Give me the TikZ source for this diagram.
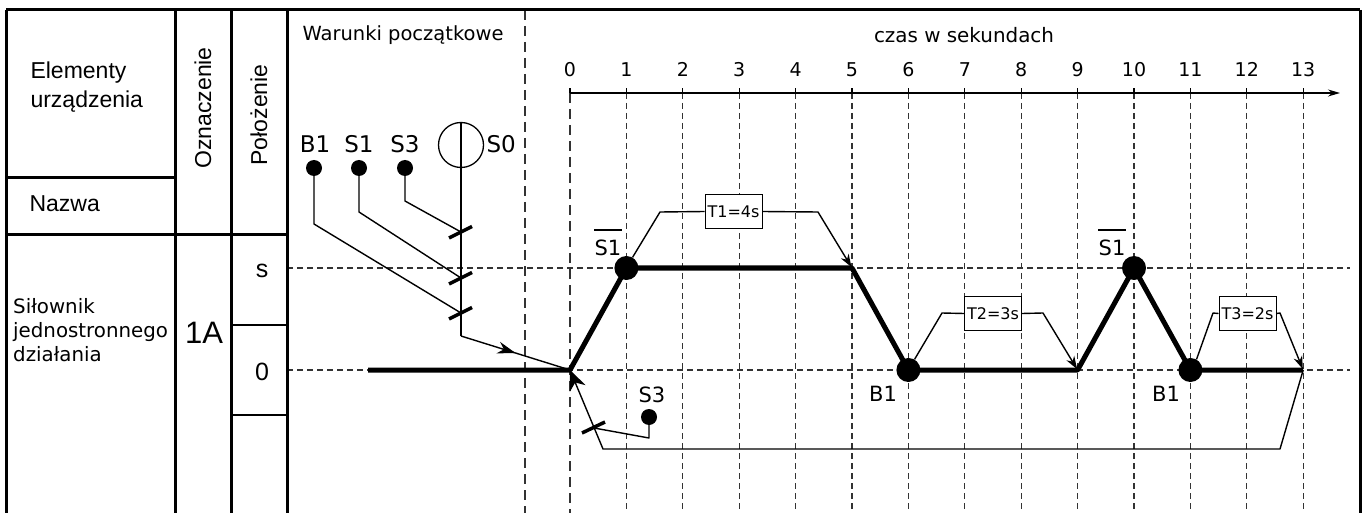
\documentclass[tikz,border=0pt]{standalone}
\usepackage{fontspec}
\setmainfont{DejaVu Sans}
\newfontfamily\arialf{Liberation Sans}
\usetikzlibrary{arrows.meta,decorations.markings,calc}
\begin{document}
\begin{tikzpicture}[x=1pt,y=-1pt,
  frame/.style={line width=3pt},
  cell/.style={line width=2pt},
  gridline/.style={line width=1.2pt, dash pattern=on 6pt off 4pt, black!80},
  lgridline/.style={line width=1.2pt, dash pattern=on 10pt off 6pt, black!80},
  wire/.style={line width=1.4pt, line join=round},
  motion/.style={line width=5pt, line join=round},
  bigdot/.style={circle, fill, inner sep=0pt, minimum size=24pt},
  smalldot/.style={circle, fill, inner sep=0pt, minimum size=16pt},
  slashmark/.style={line width=3.5pt},
  overbar/.style={line width=2.5pt},
  tbox/.style={draw, line width=1pt, fill=white, inner sep=0pt, minimum width=57pt, minimum height=34pt, font=\fontsize{16}{18}\selectfont},
  tarrow/.style={wire, -{Stealth[length=13pt,width=9pt]}, shorten >=1pt},
  arialtxt/.style={font=\arialf\fontsize{23}{29}\selectfont},
  numtxt/.style={font=\fontsize{19}{22}\selectfont},
  labtxt/.style={font=\fontsize{21}{24}\selectfont},
  toplab/.style={font=\fontsize{23}{26}\selectfont},
]
\useasboundingbox (0,0) rectangle (1363,513);

% time coordinates
\foreach \t in {0,...,13}{
  \coordinate (t\t) at ({570+56.4*\t},93);
}
\coordinate (ys) at (0,268);
\coordinate (y0) at (0,370);

% grid
\draw[lgridline] (525,10) -- (525,513);
\draw[lgridline] (t0) -- (570,513);
\foreach \t in {1,...,13}{
  \draw[gridline] (t\t) -- (t\t |- 0,513);
}
\draw[gridline] (287,268) -- (1350,268);
\draw[gridline] (287,370) -- (1350,370);

% axis
\draw[line width=1.3pt, -{Stealth[length=12pt,width=7pt]}] (t0) -- (1340,93);
\foreach \t in {0,...,13}{
  \draw[line width=1.2pt] (t\t) -- ++(0,-5);
  \node[numtxt, anchor=base] (n\t) at ($(t\t)+(0,-16)$) {\t};
}
\node[font=\fontsize{19.9}{22}\selectfont, anchor=base] (czas) at (964,43) {czas w sekundach};
\node[font=\fontsize{19.5}{22}\selectfont, anchor=base west] (war) at (299,41) {Warunki początkowe};

% table
\draw[frame] (6,10) -- (1360,10);
\draw[frame] (6,10) -- (6,513);
\draw[frame] (1360,10) -- (1360,513);
\draw[frame] (175,10) -- (175,513);
\draw[frame] (231,10) -- (231,513);
\draw[frame] (287,10) -- (287,513);
\draw[frame] (6,178) -- (175,178);
\draw[frame] (6,235) -- (287,235);
\draw[cell] (231,325) -- (287,325);
\draw[cell] (231,415) -- (287,415);

\node[arialtxt, anchor=west, align=left] (elem) at (27,87) {Elementy\\urządzenia};
\node[arialtxt, anchor=base west] (nazwa) at (26,212) {Nazwa};
\node[arialtxt, rotate=90] (ozn) at (203,108) {Oznaczenie};
\node[arialtxt, rotate=90] (pol) at (259,115) {Położenie};
\node[font=\arialf\fontsize{25}{28}\selectfont, anchor=base] (ps) at (262,277) {s};
\node[font=\arialf\fontsize{25}{28}\selectfont, anchor=base] (p0) at (262,380) {0};
\node[font=\arialf\fontsize{31}{34}\selectfont, anchor=base] (oneA) at (204,343) {1A};
\node[font=\fontsize{19.8}{24}\selectfont, anchor=north west, align=left, inner sep=0pt] (silo) at (13,298) {Siłownik\\jednostronnego\\działania};

% motion diagram
\draw[motion] (368,370) -- (t0 |- y0) -- (t1 |- ys) -- (t5 |- ys) -- (t6 |- y0) -- (t9 |- y0) -- (t10 |- ys) -- (t11 |- y0) -- (t13 |- y0);
\node[bigdot] (d1) at (t1 |- ys) {};
\node[bigdot] (d6) at (t6 |- y0) {};
\node[bigdot] (d10) at (t10 |- ys) {};
\node[bigdot] (d11) at (t11 |- y0) {};
\coordinate (c0) at (t0 |- y0);
\coordinate (c5) at (t5 |- ys);
\coordinate (c9) at (t9 |- y0);
\coordinate (c13) at (t13 |- y0);

\node[labtxt, anchor=base, inner sep=0pt] (ns1a) at (608,255) {S1};
\node[labtxt, anchor=base, inner sep=0pt] (ns1b) at (1112,255) {S1};
\draw[overbar] ($(ns1a.north west)+(0,-9)$) -- ($(ns1a.north east)+(0,-9)$);
\draw[overbar] ($(ns1b.north west)+(0,-9)$) -- ($(ns1b.north east)+(0,-9)$);
\node[labtxt, anchor=base] (nb1a) at (883,401) {B1};
\node[labtxt, anchor=base] (nb1b) at (1166,401) {B1};

% timers
\node[tbox] (T1) at (733.5,211.5) {T1=4s};
\node[tbox] (T2) at (993,313.5) {T2=3s};
\node[tbox] (T3) at (1247.5,313.5) {T3=2s};
\draw[wire] (d1.60) -- (660,212) -- (T1.west);
\draw[tarrow] (T1.east) -- (818,212) -- (c5);
\draw[wire] (d6.60) -- (942,313) -- (T2.west);
\draw[tarrow] (T2.east) -- (1043,313) -- (c9);
\draw[wire] (d11.60) -- (1213,313) -- (T3.west);
\draw[tarrow] (T3.east) -- (1280,313) -- (c13);

% initial conditions
\node[toplab, anchor=base] (lb1) at (315,153) {B1};
\node[toplab, anchor=base] (ls1) at (359,153) {S1};
\node[toplab, anchor=base] (ls3) at (405,153) {S3};
\node[toplab, anchor=base west] (ls0) at (483,153) {S0};
\node[smalldot] (b1d) at (314,168) {};
\node[smalldot] (s1d) at (359,168) {};
\node[smalldot] (s3d) at (405,168) {};
\node[draw, circle, line width=1.3pt, minimum size=45pt, inner sep=0pt] (s0c) at (461,145) {};
\coordinate (k3) at (461,232);
\coordinate (k1) at (461,278);
\coordinate (kb) at (461,313);
\coordinate (jn) at (461,336);
\draw[wire] (s0c.north) -- (jn);
\draw[wire] (b1d) -- (314,224) -- (kb);
\draw[wire] (s1d) -- (359,212) -- (k1);
\draw[wire] (s3d) -- (405,201) -- (k3);
\foreach \k in {k3,k1,kb}{
  \draw[slashmark] ($(\k)+(-12,6)$) -- ($(\k)+(11,-5.5)$);
}
\draw[wire, decoration={markings, mark=at position 0.5 with {\arrow{Stealth[length=18pt,width=12pt]}}}, postaction={decorate}] (jn) -- (c0);

% return loop
\node[labtxt, anchor=base] (ls3b) at (652,402) {S3};
\node[smalldot] (s3b) at (649,417) {};
\coordinate (kr) at (594,428);
\draw[wire, -{Stealth[length=20pt,width=17pt]}] (c13) -- (1280,449) -- (603,449) -- (c0);
\draw[wire] (s3b) -- (649,438) -- (kr);
\draw[slashmark] ($(kr)+(-12,5)$) -- ($(kr)+(11,-6)$);
\end{tikzpicture}
\end{document}
